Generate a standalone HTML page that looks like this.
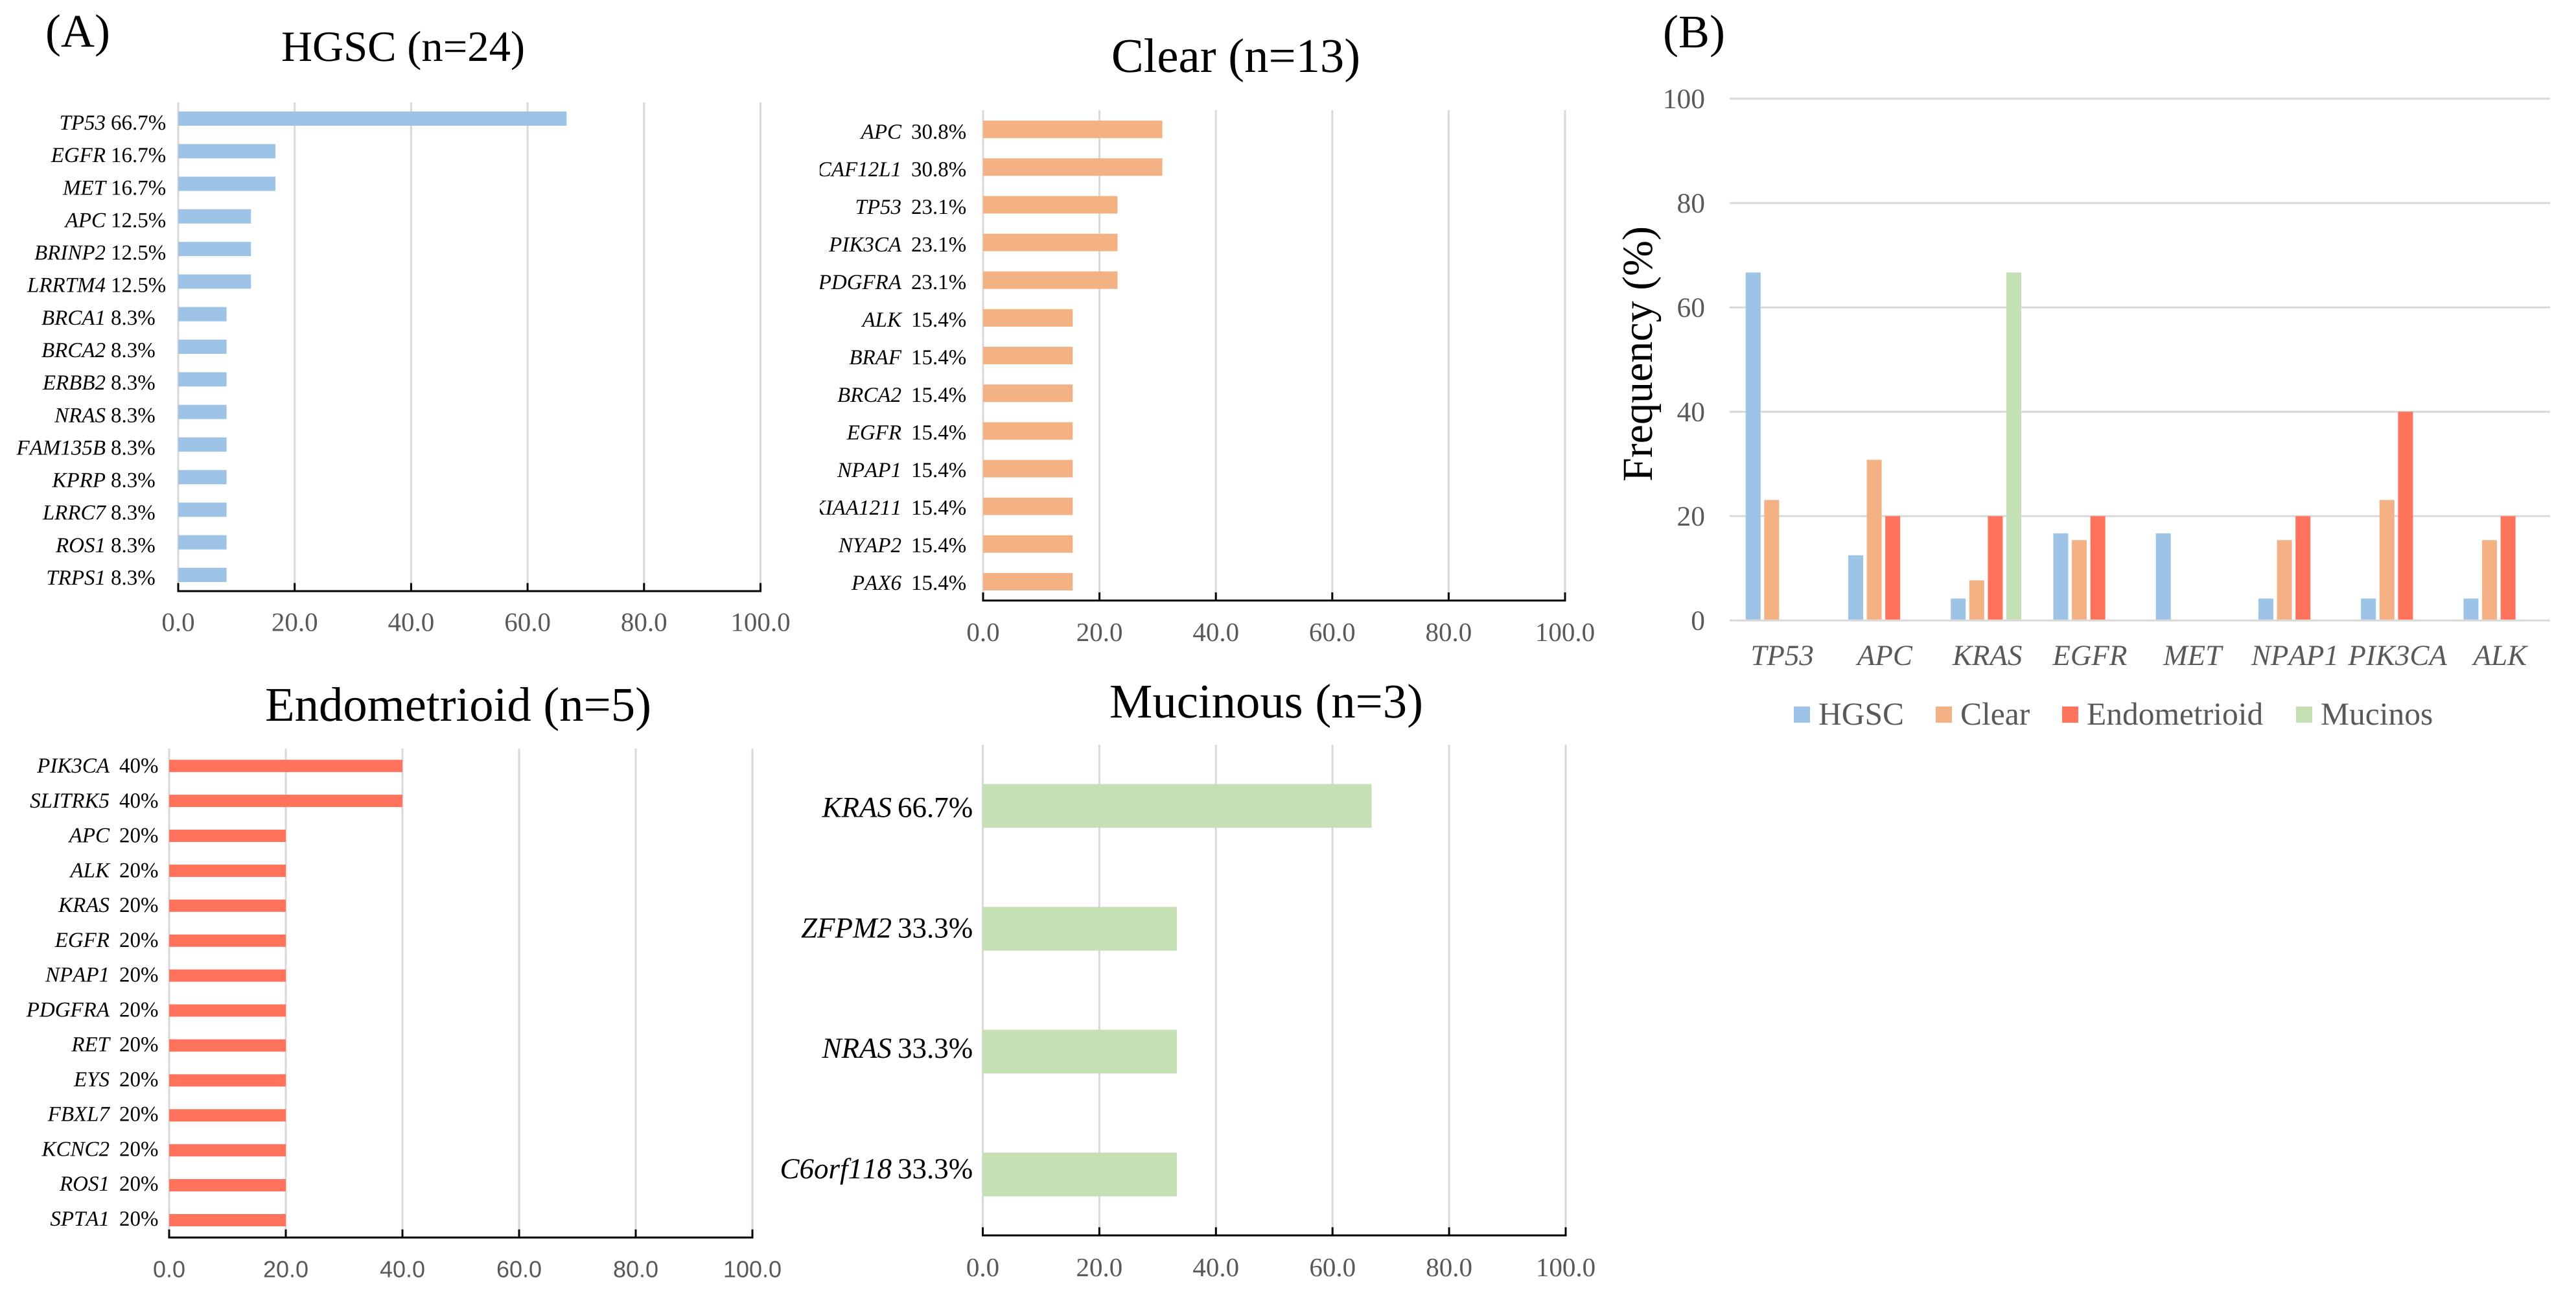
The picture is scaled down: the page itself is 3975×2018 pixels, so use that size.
<!DOCTYPE html>
<html lang="en">
<head>
<meta charset="utf-8">
<title>Gene mutation frequency by ovarian cancer histotype</title>
<style>
html,body{margin:0;padding:0;background:#fff;}
svg{display:block;font-family:"Liberation Serif","Times New Roman",serif;text-rendering:geometricPrecision;font-kerning:none;}
</style>
</head>
<body>
<svg id="figure" xmlns="http://www.w3.org/2000/svg" width="3975" height="2018" viewBox="0 0 3975 2018">
<rect x="0" y="0" width="3975" height="2018" fill="#ffffff"/>
<text x="70" y="72" font-size="72" fill="#000">(A)</text>
<text x="2566" y="73" font-size="72" fill="#000">(B)</text>
<defs>
<clipPath id="clear-label-clip"><rect x="1265" y="150" width="300" height="800"/></clipPath>
</defs>
</svg>
<script>
var hgscGenes = ["TP53","EGFR","MET","APC","BRINP2","LRRTM4","BRCA1","BRCA2","ERBB2","NRAS","FAM135B","KPRP","LRRC7","ROS1","TRPS1"];
var hgscValues = [66.7,16.7,16.7,12.5,12.5,12.5,8.3,8.3,8.3,8.3,8.3,8.3,8.3,8.3,8.3];
var hgscPrinted = ["66.7%","16.7%","16.7%","12.5%","12.5%","12.5%","8.3%","8.3%","8.3%","8.3%","8.3%","8.3%","8.3%","8.3%","8.3%"];

var clearGenes = ["APC","CAF12L1","TP53","PIK3CA","PDGFRA","ALK","BRAF","BRCA2","EGFR","NPAP1","KIAA1211","NYAP2","PAX6"];
var clearValues = [30.8,30.8,23.1,23.1,23.1,15.4,15.4,15.4,15.4,15.4,15.4,15.4,15.4];
var clearPrinted = ["30.8%","30.8%","23.1%","23.1%","23.1%","15.4%","15.4%","15.4%","15.4%","15.4%","15.4%","15.4%","15.4%"];

var endoGenes = ["PIK3CA","SLITRK5","APC","ALK","KRAS","EGFR","NPAP1","PDGFRA","RET","EYS","FBXL7","KCNC2","ROS1","SPTA1"];
var endoValues = [40,40,20,20,20,20,20,20,20,20,20,20,20,20];
var endoPrinted = ["40%","40%","20%","20%","20%","20%","20%","20%","20%","20%","20%","20%","20%","20%"];

var mucGenes = ["KRAS","ZFPM2","NRAS","C6orf118"];
var mucValues = [66.7,33.3,33.3,33.3];
var mucPrinted = ["66.7%","33.3%","33.3%","33.3%"];

var barTicks = [0,20,40,60,80,100];
var barTickLabels = ["0.0","20.0","40.0","60.0","80.0","100.0"];

var compareGenes = ["TP53","APC","KRAS","EGFR","MET","NPAP1","PIK3CA","ALK"];
var compareHgsc = [66.7,12.5,4.2,16.7,16.7,4.2,4.2,4.2];
var compareClear = [23.1,30.8,7.7,15.4,0,15.4,23.1,15.4];
var compareEndo = [0,20,20,20,0,20,40,20];
var compareMucinous = [0,0,66.7,0,0,0,0,0];
var compareTicks = [0,20,40,60,80,100];
var seriesNames = ["HGSC","Clear","Endometrioid","Mucinos"];

var svg = document.getElementById("figure");
var NS = "http://www.w3.org/2000/svg";

function make(tag, parent, attrs) {
  var el = document.createElementNS(NS, tag);
  for (var k in attrs) el.setAttribute(k, attrs[k]);
  parent.appendChild(el);
  return el;
}

function drawBarPanel(p) {
  var group = make("g", svg, {});
  
  

  function xScale(v) { return p.x0 + (v / 100) * (p.x100 - p.x0); }
  function barCenter(i) { return p.firstBar + i * (p.lastBar - p.firstBar) / (p.genes.length - 1); }
  function labelBase(i) { return p.firstLabel + i * (p.lastLabel - p.firstLabel) / (p.genes.length - 1); }

  var title = make("text", group, {x: p.titleX, y: p.titleY, "font-size": p.titleSize, "text-anchor": "middle", fill: "#000"});
  
  
  title.textContent = p.title;

  barTicks.forEach(function (t, i) {
    var grid = make("line", group, {x1: xScale(t), x2: xScale(t), y1: p.gridTop, y2: p.axisY, stroke: "#d9d9d9", "stroke-width": 3});
    
    
  });

  p.genes.forEach(function (g, i) {
    var bar = make("rect", group, {x: xScale(0), y: barCenter(i) - p.barH / 2, width: xScale(p.values[i]) - xScale(0), height: p.barH, fill: p.color});
    
    

    var geneAttrs = {x: p.geneRight, y: labelBase(i), "font-size": p.labelSize, "font-style": "italic", "text-anchor": "end", fill: "#000"};
    if (p.clip) geneAttrs["clip-path"] = "url(#" + p.clip + ")";
    var gene = make("text", group, geneAttrs);
    
    
    gene.textContent = g;

    var pct = make("text", group, {x: p.pctLeft, y: labelBase(i), "font-size": p.labelSize, fill: "#000"});
    
    
    pct.textContent = p.printed[i];
  });

  var axis = make("line", group, {x1: xScale(0) - 1.5, x2: xScale(100) + 1.5, y1: p.axisY, y2: p.axisY, stroke: "#000", "stroke-width": 3});
  
  

  barTicks.forEach(function (t, i) {
    var tick = make("line", group, {x1: xScale(t), x2: xScale(t), y1: p.axisY - 12.5, y2: p.axisY, stroke: "#000", "stroke-width": 3});
    
    

    var lab = make("text", group, {x: xScale(t), y: p.tickBase, "font-size": p.tickSize || 41, "font-family": p.tickFont || "inherit", "text-anchor": "middle", fill: "#595959"});
    
    
    lab.textContent = barTickLabels[i];
  });
}

drawBarPanel({slug: "hgsc", title: "HGSC (n=24)", genes: hgscGenes, values: hgscValues, printed: hgscPrinted, color: "#9DC3E6",
  x0: 275, x100: 1173.5, axisY: 912, gridTop: 158, firstBar: 183, lastBar: 887, barH: 22,
  firstLabel: 200, lastLabel: 902, labelSize: 33, geneRight: 163, pctLeft: 171, tickBase: 973.5,
  titleX: 622, titleY: 94, titleSize: 66.6});

drawBarPanel({slug: "clear", title: "Clear (n=13)", genes: clearGenes, values: clearValues, printed: clearPrinted, color: "#F4B183",
  x0: 1517, x100: 2415, axisY: 926.5, gridTop: 170, firstBar: 199.6, lastBar: 897.5, barH: 27,
  firstLabel: 214, lastLabel: 910, labelSize: 33, geneRight: 1391, pctLeft: 1406, tickBase: 989,
  titleX: 1907, titleY: 111, titleSize: 74.7, clip: "clear-label-clip"});

drawBarPanel({slug: "endometrioid", title: "Endometrioid (n=5)", genes: endoGenes, values: endoValues, printed: endoPrinted, color: "#FF725C",
  x0: 261, x100: 1161, axisY: 1909.3, gridTop: 1155, firstBar: 1181.7, lastBar: 1882.5, barH: 19,
  firstLabel: 1192, lastLabel: 1891, labelSize: 33, geneRight: 169, pctLeft: 184, tickBase: 1970.5,
  titleX: 707, titleY: 1112, titleSize: 74.7, tickSize: 36, tickFont: '"Liberation Sans", sans-serif'});

drawBarPanel({slug: "mucinous", title: "Mucinous (n=3)", genes: mucGenes, values: mucValues, printed: mucPrinted, color: "#C5E0B4",
  x0: 1516.5, x100: 2416, axisY: 1906, gridTop: 1149, firstBar: 1243.4, lastBar: 1812, barH: 67.5,
  firstLabel: 1260.5, lastLabel: 1818, labelSize: 45, geneRight: 1376, pctLeft: 1385, tickBase: 1969,
  titleX: 1954, titleY: 1107, titleSize: 74.7});

(function drawComparison() {
  var group = make("g", svg, {});
  
  

  var left = 2669, right = 3935, y0 = 957.3, y100 = 152.3;
  var band = (right - left) / compareGenes.length;
  var pitch = 28.6, barW = 23;
  var series = [compareHgsc, compareClear, compareEndo, compareMucinous];
  var colors = ["#9DC3E6", "#F4B183", "#FF725C", "#C5E0B4"];

  function yScale(v) { return y0 + (v / 100) * (y100 - y0); }
  function xBar(c, s) { return left + band * (c + 0.5) - (series.length * pitch - (pitch - barW)) / 2 + s * pitch; }

  compareTicks.forEach(function (t) {
    var grid = make("line", group, {x1: left, x2: right, y1: yScale(t), y2: yScale(t), stroke: "#d9d9d9", "stroke-width": 3});
    
    

    var lab = make("text", group, {x: 2631, y: yScale(t) + 14.5, "font-size": 43.5, "text-anchor": "end", fill: "#595959"});
    
    
    lab.textContent = String(t);
  });

  series.forEach(function (vals, s) {
    vals.forEach(function (v, c) {
      if (v <= 0) return;
      var bar = make("rect", group, {x: xBar(c, s), y: yScale(v), width: barW, height: yScale(0) - yScale(v) - 1.5, fill: colors[s]});
      
      
    });
  });

  compareGenes.forEach(function (g, c) {
    var lab = make("text", group, {x: left + band * (c + 0.5) + 2, y: 1026, "font-size": 45, "font-style": "italic", "text-anchor": "middle", fill: "#595959"});
    
    
    lab.textContent = g;
  });

  var yTitle = make("text", group, {transform: "translate(2549,546) rotate(-90)", "font-size": 66, "text-anchor": "middle", fill: "#000"});
  
  
  yTitle.textContent = "Frequency (%)";

  var swatchX = [2768, 2987, 3182, 3543];
  seriesNames.forEach(function (name, s) {
    var entry = make("g", group, {});
    
    

    var swatch = make("rect", entry, {x: swatchX[s], y: 1090, width: 25, height: 25, fill: colors[s]});
    
    

    var text = make("text", entry, {x: swatchX[s] + 38, y: 1118, "font-size": 49.5, fill: "#595959"});
    
    
    text.textContent = name;
  });
})();
</script>
</body>
</html>
